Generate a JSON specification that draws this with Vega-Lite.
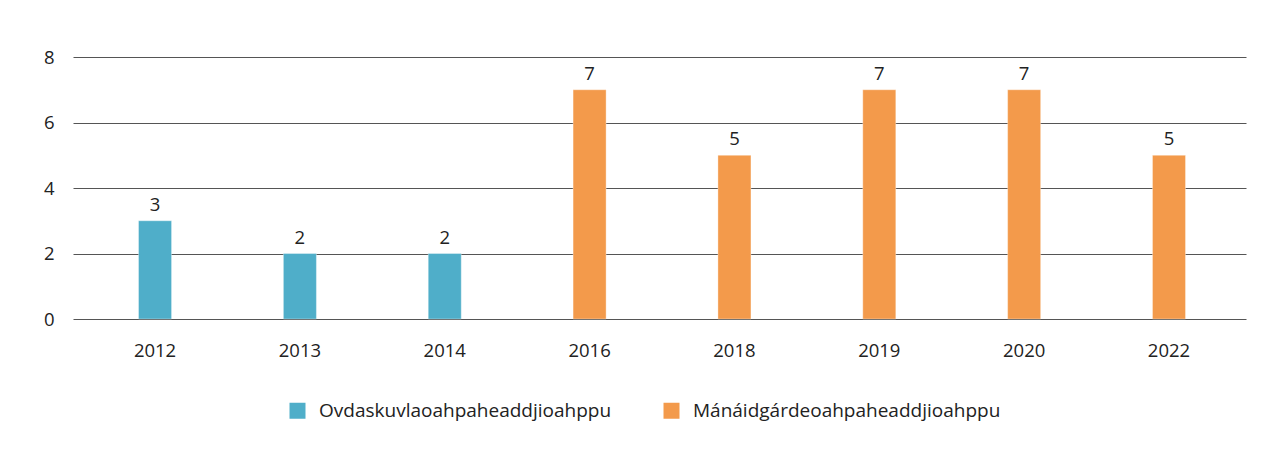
{
  "$schema": "https://vega.github.io/schema/vega-lite/v6.json",
  "autosize": {"type": "none"},
  "width": 1173,
  "height": 262,
  "padding": {"left": 73, "top": 57, "right": 34, "bottom": 138},
  "background": "white",
  "config": {
    "view": {"stroke": null},
    "font": "Open Sans",
    "axis": {"labelFont": "Open Sans", "labelFontSize": 18.5, "labelColor": "#222222", "domain": false, "ticks": false, "title": null}
  },
  "data": {
    "values": [
      {"year": "2012", "value": 3, "series": "Ovdaskuvlaoahpaheaddjioahppu"},
      {"year": "2013", "value": 2, "series": "Ovdaskuvlaoahpaheaddjioahppu"},
      {"year": "2014", "value": 2, "series": "Ovdaskuvlaoahpaheaddjioahppu"},
      {"year": "2016", "value": 7, "series": "Mánáidgárdeoahpaheaddjioahppu"},
      {"year": "2018", "value": 5, "series": "Mánáidgárdeoahpaheaddjioahppu"},
      {"year": "2019", "value": 7, "series": "Mánáidgárdeoahpaheaddjioahppu"},
      {"year": "2020", "value": 7, "series": "Mánáidgárdeoahpaheaddjioahppu"},
      {"year": "2022", "value": 5, "series": "Mánáidgárdeoahpaheaddjioahppu"}
    ]
  },
  "encoding": {
    "x": {
      "field": "year", "type": "nominal", "sort": null,
      "scale": {"paddingInner": 0.772, "paddingOuter": 0.435, "align": 0.52},
      "axis": {"labelAngle": 0, "labelPadding": 22, "grid": false}
    },
    "y": {
      "field": "value", "type": "quantitative",
      "scale": {"domain": [0, 8]},
      "axis": {"values": [0, 2, 4, 6, 8], "grid": true, "gridColor": "#555555", "gridWidth": 1, "labelPadding": 19}
    }
  },
  "layer": [
    {
      "mark": {"type": "bar", "stroke": "white", "strokeOpacity": 0.35, "strokeWidth": 1},
      "encoding": {
        "color": {
          "field": "series", "type": "nominal",
          "scale": {"domain": ["Ovdaskuvlaoahpaheaddjioahppu", "Mánáidgárdeoahpaheaddjioahppu"], "range": ["#4FAEC9", "#F39A4B"]},
          "legend": {
            "orient": "none", "direction": "horizontal", "title": null,
            "legendX": 215, "legendY": 344,
            "symbolType": "square", "symbolSize": 256, "symbolStrokeWidth": 0,
            "labelFontSize": 19, "labelFont": "Open Sans", "labelColor": "#222222", "labelLimit": 600,
            "labelOffset": 12, "columnPadding": 50, "padding": 0
          }
        }
      }
    },
    {
      "mark": {"type": "text", "baseline": "bottom", "dy": -6, "fontSize": 18.5, "color": "#222222"},
      "encoding": {"text": {"field": "value", "type": "quantitative"}}
    }
  ]
}
